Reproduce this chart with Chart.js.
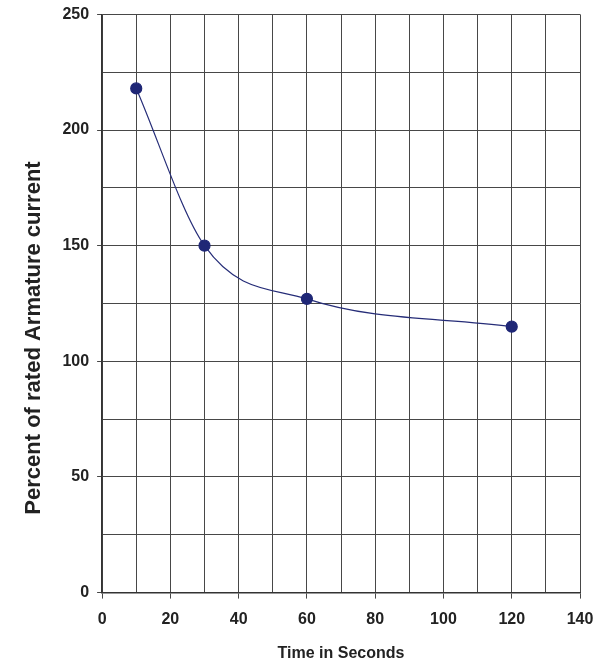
<!DOCTYPE html>
<html><head><meta charset="utf-8">
<script src="https://cdn.jsdelivr.net/npm/chart.js@4"></script>
<style>html,body{margin:0;padding:0;background:#fff}#wrap{width:611px;height:667px}</style>
</head><body><div id="wrap"><canvas id="c"></canvas></div>
<script>
const timeSeconds = [10, 30, 60, 120];
const percentCurrent = [218, 150, 127, 115];
const xTickLabels = [0, 20, 40, 60, 80, 100, 120, 140];
const yTickLabels = [0, 50, 100, 150, 200, 250];
const yTitleText = 'Percent of rated Armature current';

const gridColor = '#474747';
const lineColor = '#262d78';
const titleFont = 'bold 22px "Liberation Sans", Arial';

// Draws the y-axis title a little lower than the axis centre, as in the reference
const yTitlePlugin = {
  id: 'yTitle',
  afterDraw(chart) {
    const {ctx, chartArea} = chart;
    ctx.save();
    ctx.font = titleFont;
    ctx.fillStyle = '#222';
    ctx.textAlign = 'center';
    ctx.textBaseline = 'middle';
    ctx.translate(34, 338);
    ctx.rotate(-Math.PI / 2);
    ctx.fillText(yTitleText, 0, 0);
    ctx.restore();
  }
};

new Chart(document.getElementById('c'), {
  type: 'scatter',
  data: { datasets: [{
    data: timeSeconds.map((t, i) => ({x: t, y: percentCurrent[i]})),
    showLine: true,
    borderColor: lineColor,
    borderWidth: 1.2,
    backgroundColor: lineColor,
    pointBackgroundColor: '#1f2776',
    pointBorderColor: '#1f2776',
    pointRadius: 5.5,
    cubicInterpolationMode: 'monotone'
  }]},
  plugins: [yTitlePlugin],
  options: {
    responsive: true, maintainAspectRatio: false, animation: false,
    layout: { padding: { top: 0, right: 31, bottom: 0, left: 6 } },
    plugins: { legend: { display: false }, tooltip: { enabled: false } },
    scales: {
      x: {
        type: 'linear', min: 0, max: 140,
        ticks: { stepSize: 10, autoSkip: false, maxRotation: 0,
          color: '#222', font: { family: 'Liberation Sans, Arial', size: 16, weight: 'bold' },
          padding: 11,
          callback: v => xTickLabels.includes(v) ? String(v) : '' },
        grid: { color: gridColor, lineWidth: 1, tickLength: 6,
          tickColor: ctx => xTickLabels.includes(ctx.tick && ctx.tick.value) ? gridColor : 'rgba(0,0,0,0)' },
        border: { color: '#333', width: 1.5 },
        title: { display: true, text: 'Time in Seconds', color: '#222',
          font: { family: 'Liberation Sans, Arial', size: 16, weight: 'bold' }, padding: { top: 4 } }
      },
      y: {
        min: 0, max: 250,
        ticks: { stepSize: 25, autoSkip: false,
          color: '#222', font: { family: 'Liberation Sans, Arial', size: 16, weight: 'bold', lineHeight: 0.8 },
          padding: 8,
          callback: v => yTickLabels.includes(v) ? String(v) : '' },
        grid: { color: gridColor, lineWidth: 1, tickLength: 5,
          tickColor: ctx => yTickLabels.includes(ctx.tick && ctx.tick.value) ? gridColor : 'rgba(0,0,0,0)' },
        border: { color: '#333', width: 1.5 },
        title: { display: true, text: yTitleText, color: 'rgba(0,0,0,0)',
          font: { family: 'Liberation Sans, Arial', size: 22, weight: 'bold' }, padding: { bottom: 18 } }
      }
    }
  }
});
</script></body></html>
